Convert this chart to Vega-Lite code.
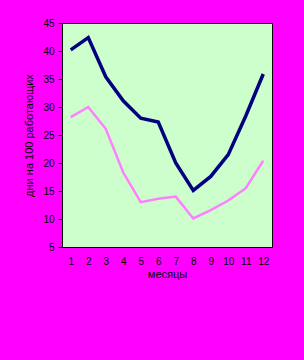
{
  "$schema": "https://vega.github.io/schema/vega-lite/v6.json",
  "autosize": {"type": "none"},
  "width": 210,
  "height": 224,
  "padding": {"left": 62, "top": 23, "right": 32, "bottom": 113},
  "background": "#FF00FF",
  "config": {
    "view": {"fill": "#CCFFCC", "stroke": "#000000", "strokeWidth": 1},
    "axis": {"labelFont": "Liberation Sans", "titleFont": "Liberation Sans", "labelColor": "#000000", "titleColor": "#000000", "grid": false, "domainColor": "#000000", "tickColor": "#000000", "titleFontWeight": "normal"}
  },
  "data": {"values": [
    {"m": 1, "s": "a", "v": 40.2}, {"m": 2, "s": "a", "v": 42.4}, {"m": 3, "s": "a", "v": 35.4}, {"m": 4, "s": "a", "v": 31.1},
    {"m": 5, "s": "a", "v": 28}, {"m": 6, "s": "a", "v": 27.3}, {"m": 7, "s": "a", "v": 20}, {"m": 8, "s": "a", "v": 15.1},
    {"m": 9, "s": "a", "v": 17.6}, {"m": 10, "s": "a", "v": 21.5}, {"m": 11, "s": "a", "v": 28.4}, {"m": 12, "s": "a", "v": 35.9},
    {"m": 1, "s": "b", "v": 28.2}, {"m": 2, "s": "b", "v": 30}, {"m": 3, "s": "b", "v": 26.1}, {"m": 4, "s": "b", "v": 18.3},
    {"m": 5, "s": "b", "v": 13}, {"m": 6, "s": "b", "v": 13.6}, {"m": 7, "s": "b", "v": 14}, {"m": 8, "s": "b", "v": 10.1},
    {"m": 9, "s": "b", "v": 11.6}, {"m": 10, "s": "b", "v": 13.3}, {"m": 11, "s": "b", "v": 15.5}, {"m": 12, "s": "b", "v": 20.4}
  ]},
  "mark": {"type": "line", "clip": true},
  "encoding": {
    "x": {"field": "m", "type": "ordinal", "title": "месяцы",
      "scale": {"type": "point", "padding": 0.5},
      "axis": {"labelAngle": 0, "ticks": false, "labelPadding": 9, "labelFontSize": 10, "titleFontSize": 11, "titlePadding": 2, "domain": true}},
    "y": {"field": "v", "type": "quantitative", "title": "дни на 100 работающих",
      "scale": {"domain": [5, 45], "nice": false, "zero": false},
      "axis": {"values": [5, 10, 15, 20, 25, 30, 35, 40, 45], "tickSize": 4, "labelPadding": 4, "labelFontSize": 10, "titleFontSize": 11, "titlePadding": 8}},
    "color": {"field": "s", "type": "nominal", "legend": null,
      "scale": {"domain": ["a", "b"], "range": ["#000080", "#FF80FF"]}},
    "strokeWidth": {"field": "s", "type": "nominal", "legend": null,
      "scale": {"domain": ["a", "b"], "range": [3.5, 2.5]}}
  }
}
